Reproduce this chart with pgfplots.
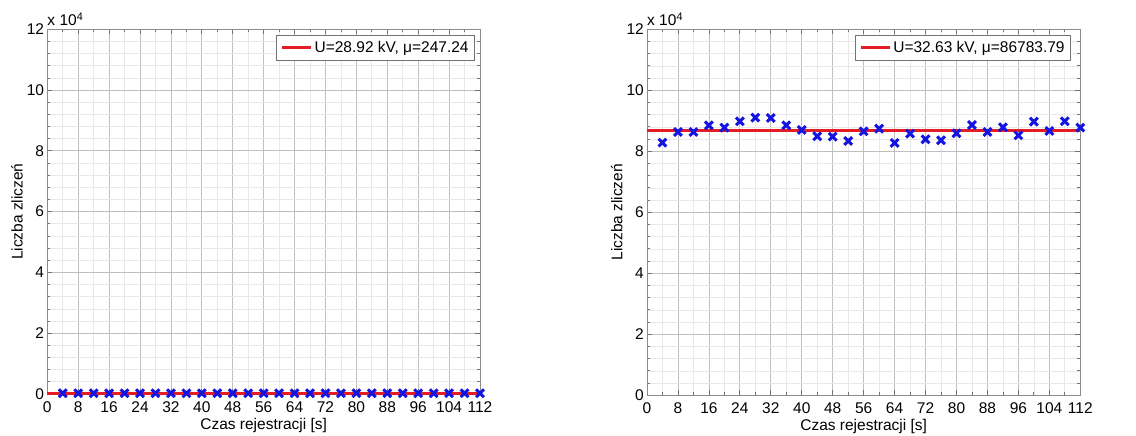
\documentclass[border=0pt]{standalone}
\usepackage{fontspec}
\setmainfont{Liberation Sans}
\usepackage{pgfplots}
\pgfplotsset{compat=1.18}
\definecolor{mred}{RGB}{228,28,36}
\definecolor{mblue}{RGB}{20,20,225}
\newcommand{\ff}{\fontsize{15.5}{18}\selectfont}
\pgfplotsset{
  mstyle/.style={
    scale only axis,
    xmin=0, xmax=112, ymin=0, ymax=120000,
    xtick={0,8,...,112},
    ytick={0,20000,40000,60000,80000,100000,120000},
    yticklabels={0,2,4,6,8,10,12},
    scaled y ticks=false,
    minor x tick num=1,
    minor y tick num=4,
    grid=both,
    major grid style={draw=black!25, line width=0.8pt},
    minor grid style={draw=black!9, line width=0.7pt},
    axis line style={draw=black!45, line width=0.9pt},
    tick style={draw=black!55, line width=0.8pt},
    major tick length=5pt,
    minor tick length=3pt,
    tick align=inside,
    /pgf/number format/assume math mode=true,
    tick label style={font=\ff},
    xticklabel style={inner sep=0pt, yshift=-7pt},
    yticklabel style={inner sep=0pt, xshift=-3pt},
    xlabel={Czas rejestracji [s]},
    ylabel={Liczba zliczeń},
    label style={font=\ff},
    xlabel style={at={(axis description cs:0.5,0)}, anchor=north, inner sep=0pt, yshift=-24pt},
    ylabel style={at={(axis description cs:-0.056,0.5)}, anchor=south, inner sep=0pt},
    legend style={at={(rel axis cs:1,1)}, anchor=north east, xshift=-5pt, yshift=-5.5pt,
      draw=black!55, fill=white, line width=0.8pt, font=\ff,
      inner xsep=4pt, inner ysep=4pt, cells={anchor=west}},
    legend image code/.code={\draw[#1, line width=3.2pt] (0pt,0pt) -- (29pt,0pt);},
    clip=false,
  }
}
\begin{document}
\begin{tikzpicture}
\useasboundingbox (0pt,0pt) rectangle (1136pt,436pt);
\begin{axis}[mstyle, at={(47.3pt,42pt)}, anchor=south west, width=432.7pt, height=364.7pt]
\addplot[mred, line width=3.2pt] coordinates {(0,247.24) (112,247.24)};
\addlegendentry{U=28.92 kV, μ=247.24}
\addplot[only marks, mark=x, mark size=5.5pt, mblue, mark options={line width=3pt}, forget plot] coordinates {
(4,251) (8,243) (12,248) (16,239) (20,255) (24,246) (28,250) (32,241)
(36,244) (40,252) (44,249) (48,238) (52,253) (56,247) (60,242) (64,256)
(68,245) (72,248) (76,240) (80,251) (84,246) (88,254) (92,243) (96,249)
(100,250) (104,244) (108,247) (112,244)};
\node[anchor=south west, inner sep=0pt, font=\ff, yshift=3pt] at (rel axis cs:0,1) {x 10\textsuperscript{4}};
\end{axis}
\begin{axis}[mstyle, at={(647pt,40.7pt)}, anchor=south west, width=433.3pt, height=366pt,
  legend style={xshift=-4.3pt}]
\addplot[mred, line width=3.2pt] coordinates {(0,86783.79) (112,86783.79)};
\addlegendentry{U=32.63 kV, μ=86783.79}
\addplot[only marks, mark=x, mark size=5.5pt, mblue, mark options={line width=3pt}, forget plot] coordinates {
(4,82840) (8,86340) (12,86340) (16,88520) (20,87760) (24,89840) (28,91040) (32,90930)
(36,88520) (40,87000) (44,84920) (48,84810) (52,83390) (56,86560) (60,87430) (64,82730)
(68,85790) (72,83930) (76,83610) (80,85900) (84,88630) (88,86340) (92,87870) (96,85250)
(100,89730) (104,86670) (108,89840) (112,87760)};
\node[anchor=south west, inner sep=0pt, font=\ff, yshift=3pt] at (rel axis cs:0,1) {x 10\textsuperscript{4}};
\end{axis}
\end{tikzpicture}
\end{document}
